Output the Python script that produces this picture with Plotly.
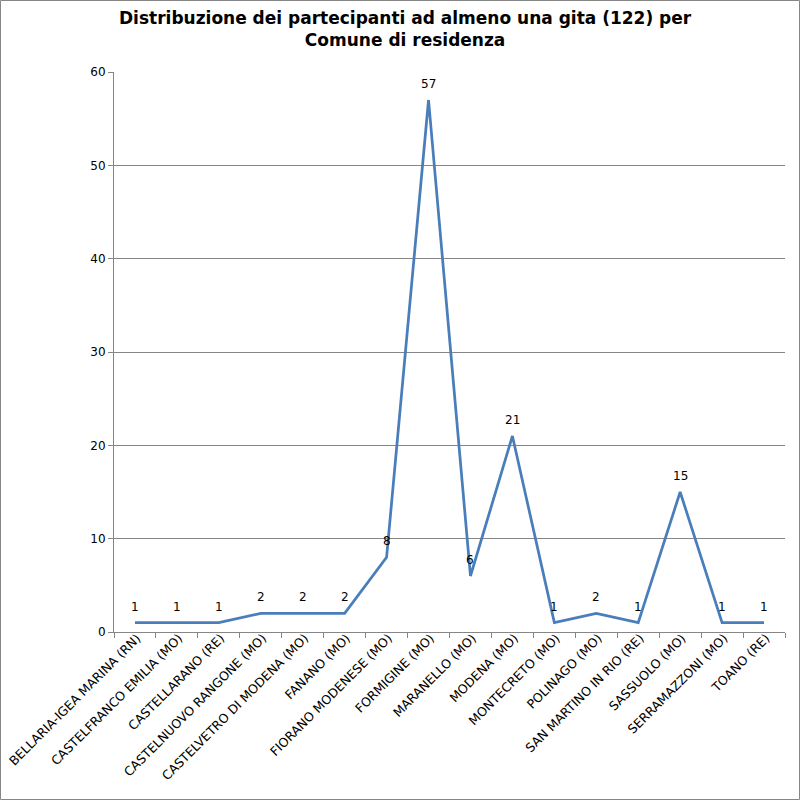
import plotly.graph_objects as go

comuni = ['BELLARIA-IGEA MARINA (RN)', 'CASTELFRANCO EMILIA (MO)', 'CASTELLARANO (RE)',
          'CASTELNUOVO RANGONE (MO)', 'CASTELVETRO DI MODENA (MO)', 'FANANO (MO)',
          'FIORANO MODENESE (MO)', 'FORMIGINE (MO)', 'MARANELLO (MO)', 'MODENA (MO)',
          'MONTECRETO (MO)', 'POLINAGO (MO)', 'SAN MARTINO IN RIO (RE)', 'SASSUOLO (MO)',
          'SERRAMAZZONI (MO)', 'TOANO (RE)']
partecipanti = [1, 1, 1, 2, 2, 2, 8, 57, 6, 21, 1, 2, 1, 15, 1, 1]

fig = go.Figure()

fig.add_trace(go.Scatter(x=comuni, y=partecipanti,
                         mode='lines',
                         line=dict(color='#4a7ebb', width=2.75),
                         hoverinfo='skip',
                         showlegend=False))

# data labels above each point
for c, v in zip(comuni, partecipanti):
    fig.add_annotation(x=c, y=v, text=str(v), showarrow=False,
                       yanchor='bottom', yshift=7,
                       font=dict(family='DejaVu Sans', size=12, color='black'))

fig.add_annotation(text='<b>Distribuzione dei partecipanti ad almeno una gita (122) per<br>Comune di residenza</b>',
                   xref='paper', yref='paper', x=(405 - 114) / 671, y=1 + 20 / 560,
                   xanchor='center', yanchor='bottom', showarrow=False,
                   font=dict(family='DejaVu Sans', size=17, color='black'))

fig.update_layout(
    width=800, height=800,
    paper_bgcolor='white', plot_bgcolor='white',
    margin=dict(l=114, r=15, t=72, b=168),
    font=dict(family='DejaVu Sans', size=12, color='black'),
)

fig.update_xaxes(type='category', range=[-0.5, len(comuni) - 0.5],
                 tickangle=-45, tickson='boundaries', automargin=False,
                 ticks='outside', ticklen=5, tickcolor='#868686',
                 ticklabelshift=2, ticklabelstandoff=-7,
                 showline=True, linecolor='#868686', showgrid=False,
                 tickfont=dict(family='DejaVu Sans', size=12.5))
fig.update_yaxes(range=[0, 60], dtick=10, ticks='outside', ticklen=5, tickcolor='#868686',
                 automargin=False,
                 showline=True, linecolor='#868686', showgrid=True, gridcolor='#868686',
                 gridwidth=1, zeroline=False,
                 tickfont=dict(family='DejaVu Sans', size=12))

# outer frame
fig.add_shape(type='rect', xref='paper', yref='paper',
              x0=-113.5 / 671, x1=1 + 14.5 / 671, y0=-167.5 / 560, y1=1 + 71.5 / 560,
              line=dict(color='#868686', width=1))

fig.write_html('out.html', config={'displayModeBar': False},
               post_script="document.body.style.margin='0px';")
